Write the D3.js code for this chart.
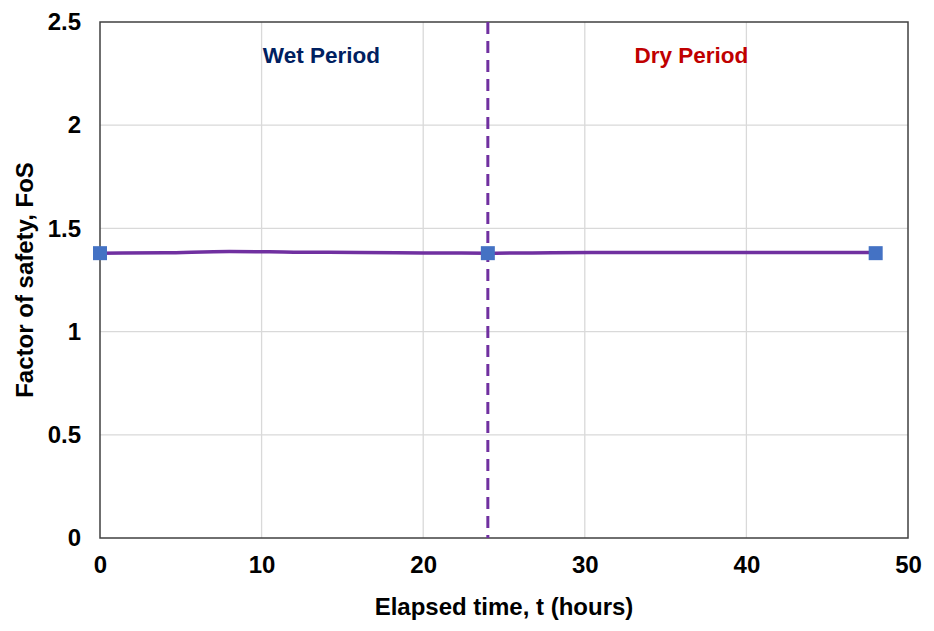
<!DOCTYPE html>
<html>
<head>
<meta charset="utf-8">
<script src="https://cdn.jsdelivr.net/npm/d3@7"></script>
<style>
  body { margin: 0; background: #fff; }
  text { font-family: "Liberation Sans", Arial, sans-serif; font-weight: bold; }
</style>
</head>
<body>
<div id="chart"></div>
<script>
// FoS curve (purple line), sampled every 4 h
var lineTimes = [0, 4, 8, 12, 16, 20, 24, 28, 32, 36, 40, 44, 48];
var lineFos = [1.380, 1.382, 1.388, 1.385, 1.383, 1.381, 1.380, 1.382, 1.383, 1.383, 1.383, 1.383, 1.383];
// square markers
var markerTimes = [0, 24, 48];
var markerFos = [1.380, 1.380, 1.380];
var xTicks = [0, 10, 20, 30, 40, 50];
var yTicks = [0, 0.5, 1, 1.5, 2, 2.5];
var splitTime = 24;
var periodLabels = ['Wet Period', 'Dry Period'];
var periodTimes = [13.7, 36.6];

var width = 934, height = 631;
var margin = {top: 22, right: 26, bottom: 93, left: 100};

var svg = d3.select('#chart')
    .append('svg')
    .attr('width', width)
    .attr('height', height);

var x = d3.scaleLinear().domain([0, 50]).range([margin.left, width - margin.right]);
var y = d3.scaleLinear().domain([0, 2.5]).range([height - margin.bottom, margin.top]);

// gridlines
svg.append('g')
    .selectAll('line')
    .data(xTicks.slice(1, -1))
    .enter()
    .append('line')
    .attr('x1', function(d) { return x(d); })
    .attr('x2', function(d) { return x(d); })
    .attr('y1', y(0))
    .attr('y2', y(2.5))
    .attr('stroke', '#d9d9d9')
    .attr('stroke-width', 1.3);

svg.append('g')
    .selectAll('line')
    .data(yTicks.slice(1, -1))
    .enter()
    .append('line')
    .attr('x1', x(0))
    .attr('x2', x(50))
    .attr('y1', function(d) { return y(d); })
    .attr('y2', function(d) { return y(d); })
    .attr('stroke', '#d9d9d9')
    .attr('stroke-width', 1.3);

// frame
svg.append('rect')
    .attr('x', x(0))
    .attr('y', y(2.5))
    .attr('width', x(50) - x(0))
    .attr('height', y(0) - y(2.5))
    .attr('fill', 'none')
    .attr('stroke', '#404040')
    .attr('stroke-width', 1.5);

// axes (tick labels only)
var xAxis = svg.append('g')
    .attr('transform', 'translate(0,' + y(0) + ')')
    .call(d3.axisBottom(x).tickValues(xTicks).tickSize(0).tickPadding(18));
xAxis.select('.domain').remove();
xAxis.selectAll('text')
    .attr('font-size', 24)
    .attr('fill', '#000')
    .style('font-family', '"Liberation Sans", Arial, sans-serif');

var yAxis = svg.append('g')
    .attr('transform', 'translate(' + x(0) + ',0)')
    .call(d3.axisLeft(y).tickValues(yTicks).tickFormat(d3.format('')).tickSize(0).tickPadding(19));
yAxis.select('.domain').remove();
yAxis.selectAll('text')
    .attr('font-size', 24)
    .attr('fill', '#000')
    .style('font-family', '"Liberation Sans", Arial, sans-serif');

// wet/dry divider
svg.append('line')
    .attr('x1', x(splitTime))
    .attr('x2', x(splitTime))
    .attr('y1', y(2.5))
    .attr('y2', y(0))
    .attr('stroke', '#7030a0')
    .attr('stroke-width', 3)
    .attr('stroke-dasharray', '12,7');

// FoS line
var line = d3.line()
    .x(function(d, i) { return x(lineTimes[i]); })
    .y(function(d) { return y(d); })
    .curve(d3.curveMonotoneX);

svg.append('path')
    .datum(lineFos)
    .attr('d', line)
    .attr('fill', 'none')
    .attr('stroke', '#7030a0')
    .attr('stroke-width', 3.5);

// markers
var ms = 14;
svg.append('g')
    .selectAll('rect')
    .data(markerFos)
    .enter()
    .append('rect')
    .attr('x', function(d, i) { return x(markerTimes[i]) - ms / 2; })
    .attr('y', function(d) { return y(d) - ms / 2; })
    .attr('width', ms)
    .attr('height', ms)
    .attr('fill', '#4472c4');

// period labels
svg.append('g')
    .selectAll('text')
    .data(periodLabels)
    .enter()
    .append('text')
    .attr('x', function(d, i) { return x(periodTimes[i]); })
    .attr('y', 63)
    .attr('text-anchor', 'middle')
    .attr('font-size', 22.5)
    .attr('fill', function(d, i) { return i === 0 ? '#002060' : '#c00000'; })
    .text(function(d) { return d; });

// axis titles
svg.append('text')
    .attr('x', (x(0) + x(50)) / 2)
    .attr('y', 615)
    .attr('text-anchor', 'middle')
    .attr('font-size', 24)
    .text('Elapsed time, t (hours)');

svg.append('text')
    .attr('transform', 'translate(33,' + (y(0) + y(2.5)) / 2 + ') rotate(-90)')
    .attr('text-anchor', 'middle')
    .attr('font-size', 24)
    .text('Factor of safety, FoS');
</script>
</body>
</html>
